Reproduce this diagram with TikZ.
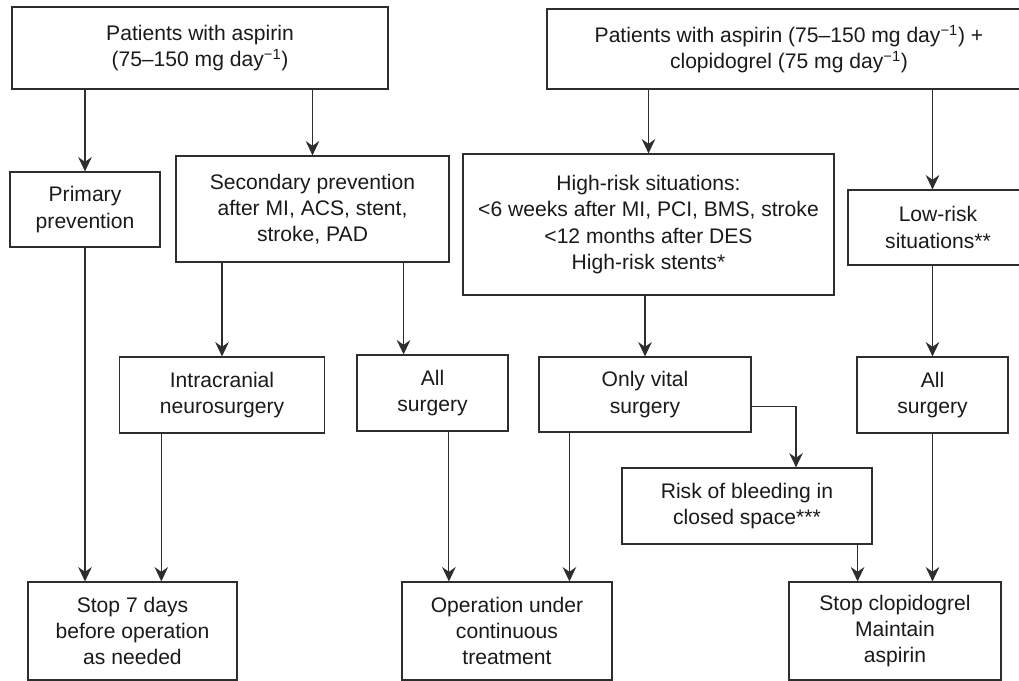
\documentclass[tikz,border=0pt]{standalone}
\usepackage{fontspec}
\setmainfont{Liberation Sans}
\usetikzlibrary{arrows.meta}
\definecolor{boxline}{HTML}{2E2E2E}
\definecolor{boxtext}{HTML}{1A1A1A}

\begin{document}
\begin{tikzpicture}
		[x=0.025cm, y=-0.025cm,
		every node/.style={rectangle,draw=boxline,line width=0.8pt,inner sep=0pt,align=center,
			text=boxtext,font=\fontsize{15pt}{18.6pt}\selectfont},
		every path/.style={line width=0.8pt},
		flow/.style={draw=boxline,-{Stealth[length=3.6mm,width=3.4mm,inset=1.2mm]}}]
		\useasboundingbox (0,0) rectangle (1019,681);
		\node (asp) [minimum width=9.4cm,minimum height=2.05cm] at (200,48)
			{Patients with aspirin\\(75–150 mg day\textsuperscript{−1})};
		\node (clop) [minimum width=12.1cm,minimum height=2cm] at (789,49)
			{Patients with aspirin (75–150 mg day\textsuperscript{−1}) +\\clopidogrel (75 mg day\textsuperscript{−1})};
		\node (prim) [minimum width=3.75cm,minimum height=1.875cm] at (85,209.5)
			{Primary\\prevention};
		\node (sec) [minimum width=6.825cm,minimum height=2.65cm] at (312.5,209)
			{Secondary prevention\\after MI, ACS, stent,\\stroke, PAD};
		\node (high) [minimum width=9.275cm,minimum height=3.525cm] at (648.5,224.5)
			{High-risk situations:\\<6 weeks after MI, PCI, BMS, stroke\\<12 months after DES\\High-risk stents*};
		\node (low) [minimum width=4.5cm,minimum height=1.875cm] at (938,227.5)
			{Low-risk\\situations**};
		\node (intra) [minimum width=5.125cm,minimum height=1.9cm] at (222,395)
			{Intracranial\\neurosurgery};
		\node (allA) [minimum width=3.775cm,minimum height=1.9cm] at (432.5,393)
			{All\\surgery};
		\node (vital) [minimum width=5.3cm,minimum height=1.875cm] at (645,394.5)
			{Only vital\\surgery};
		\node (allB) [minimum width=3.775cm,minimum height=1.9cm] at (932.5,395)
			{All\\surgery};
		\node (risk) [minimum width=6.25cm,minimum height=1.9cm] at (747,506)
			{Risk of bleeding in\\closed space***};
		\node (stop) [minimum width=5.225cm,minimum height=2.45cm] at (132.5,631)
			{Stop 7 days\\before operation\\as needed};
		\node (oper) [minimum width=5.25cm,minimum height=2.45cm] at (507,631)
			{Operation under\\continuous\\treatment};
		\node (keep) [minimum width=5.3cm,minimum height=2.45cm] at (895,631)
			{Stop clopidogrel\\Maintain\\aspirin};
		\draw [flow] (prim.north |- asp.south) -- (prim.north);
		\draw [flow] (sec.north |- asp.south) -- (sec.north);
		\draw [flow] (high.north |- clop.south) -- (high.north);
		\draw [flow] (allB.north |- clop.south) -- (allB.north |- low.north);
		\draw [flow] (intra.north |- sec.south) -- (intra.north);
		\draw [flow] ([xshift=-1.15cm]sec.south east) -- ([xshift=-1.15cm]sec.south east |- allA.north);
		\draw [flow] (vital.north |- high.south) -- (vital.north);
		\draw [flow] (allB.north |- low.south) -- (allB.north);
		\draw [flow] (prim.south) -- (prim.south |- stop.north);
		\draw [flow] ([xshift=1.06cm]intra.south west) -- ([xshift=1.06cm]intra.south west |- stop.north);
		\draw [flow] ([xshift=0.41cm]allA.south) -- ([xshift=0.41cm]allA.south |- oper.north);
		\draw [flow] ([xshift=0.775cm]vital.south west) -- ([xshift=0.775cm]vital.south west |- oper.north);
		\draw [flow] ([yshift=-0.31cm]vital.east) -| ([xshift=1.225cm]risk.north);
		\draw [flow] ([xshift=-0.375cm]risk.south east) -- ([xshift=-0.375cm]risk.south east |- keep.north);
		\draw [flow] (allB.south) -- (allB.south |- keep.north);
	\end{tikzpicture}
\end{document}
